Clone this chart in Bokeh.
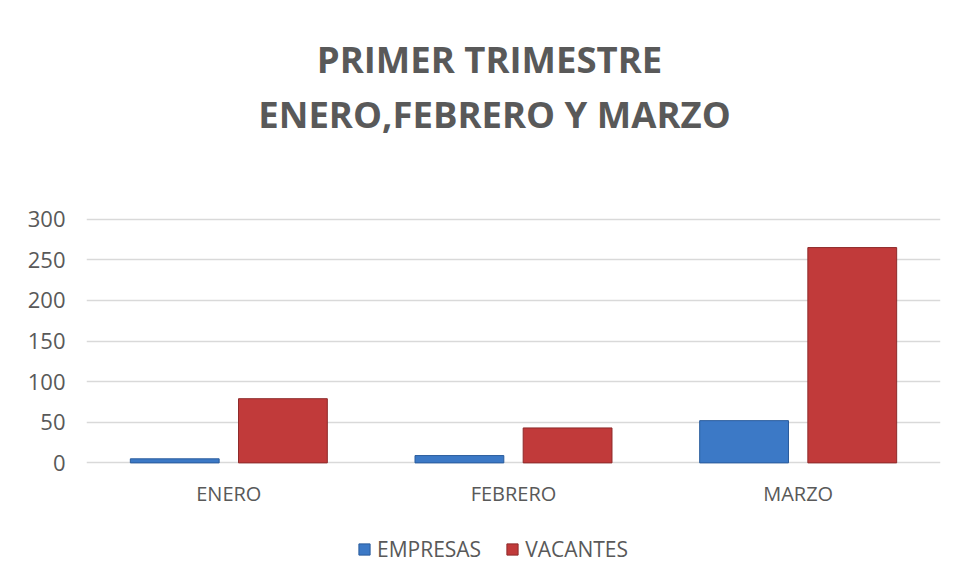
from bokeh.plotting import figure
from bokeh.models import (ColumnDataSource, FactorRange, Range1d, FixedTicker,
                          Legend, LegendItem)
from bokeh.layouts import column
from bokeh.transform import dodge
from bokeh.core.properties import value
from bokeh.embed import file_html
from bokeh.resources import INLINE

months = ["ENERO", "FEBRERO", "MARZO"]
empresas = [5, 9, 52]
vacantes = [79, 43, 265]
series_names = ["EMPRESAS", "VACANTES"]
y_ticks = [0, 50, 100, 150, 200, 250, 300]
title_lines = ["PRIMER TRIMESTRE", "ENERO,FEBRERO Y MARZO"]

FONT = "Open Sans"
GRAY = "#595959"
BLUE = "#3c79c6"
RED = "#c13a3a"

W = 960
FL, FR = 86, 940   # frame edges shared by the stacked plots

# ---- title strip ----
pt = figure(width=W, height=170, x_range=Range1d(FL, FR), y_range=Range1d(170, 0),
            output_backend="svg", toolbar_location=None, min_border=0,
            outline_line_color=None, border_fill_color="white", background_fill_color="white")
pt.axis.visible = False
pt.grid.visible = False
pt.text(x=[489, 494], y=[58, 113], text=title_lines, text_align="center",
        text_baseline="middle", text_font=value(FONT), text_font_size="36.5px",
        text_font_style="bold", text_color=GRAY)

# ---- main chart ----
src = ColumnDataSource(dict(month=months, empresas=empresas, vacantes=vacantes))
p = figure(x_range=FactorRange(factors=months, range_padding=0),
           y_range=Range1d(-2, 302),
           width=W, height=350, output_backend="svg", toolbar_location=None,
           min_border_left=FL, min_border_right=W - FR, min_border_top=47, min_border_bottom=56,
           background_fill_color="white", border_fill_color="white", outline_line_color=None)

r1 = p.vbar(x=dodge("month", -0.19, range=p.x_range), top="empresas", width=0.312, source=src,
            fill_color=BLUE, line_color="#2a5c9c", line_width=1)
r2 = p.vbar(x=dodge("month", 0.19, range=p.x_range), top="vacantes", width=0.312, source=src,
            fill_color=RED, line_color="#8e2a2a", line_width=1)

p.yaxis.ticker = FixedTicker(ticks=y_ticks)
for ax in (p.xaxis[0], p.yaxis[0]):
    ax.axis_line_color = None
    ax.major_tick_line_color = None
    ax.minor_tick_line_color = None
    ax.major_label_text_font = FONT
    ax.major_label_text_color = GRAY
p.yaxis.major_label_text_font_size = "22px"
p.xaxis.major_label_text_font_size = "20px"
p.yaxis.major_label_standoff = 15
p.xaxis.major_label_standoff = 9

p.xgrid.grid_line_color = None
p.ygrid.grid_line_color = "#d9d9d9"
p.ygrid.grid_line_width = 1.3

# ---- legend strip ----
src2 = ColumnDataSource(dict(month=months, empresas=empresas, vacantes=vacantes))
pl = figure(width=W, height=60, x_range=FactorRange(factors=months), y_range=Range1d(1000, 1001),
            output_backend="svg", toolbar_location=None, min_border=0,
            outline_line_color=None, border_fill_color="white", background_fill_color="white")
pl.axis.visible = False
pl.grid.visible = False
l1 = pl.vbar(x="month", top="empresas", width=0.3, source=src2, fill_color=BLUE,
             line_color="#2a5c9c")
l2 = pl.vbar(x="month", top="vacantes", width=0.3, source=src2, fill_color=RED,
             line_color="#8e2a2a")
legend = Legend(items=[LegendItem(label=series_names[0], renderers=[l1]),
                       LegendItem(label=series_names[1], renderers=[l2])],
                orientation="horizontal", location=(271, 17),
                label_text_font=FONT, label_text_font_size="21px", label_text_color=GRAY,
                glyph_width=14, glyph_height=14, label_standoff=6, spacing=24,
                border_line_color=None, background_fill_alpha=0, margin=0, padding=0)
pl.add_layout(legend, "center")

layout = column(pt, p, pl, spacing=0)

open("out.html", "w").write(file_html(layout, INLINE))
